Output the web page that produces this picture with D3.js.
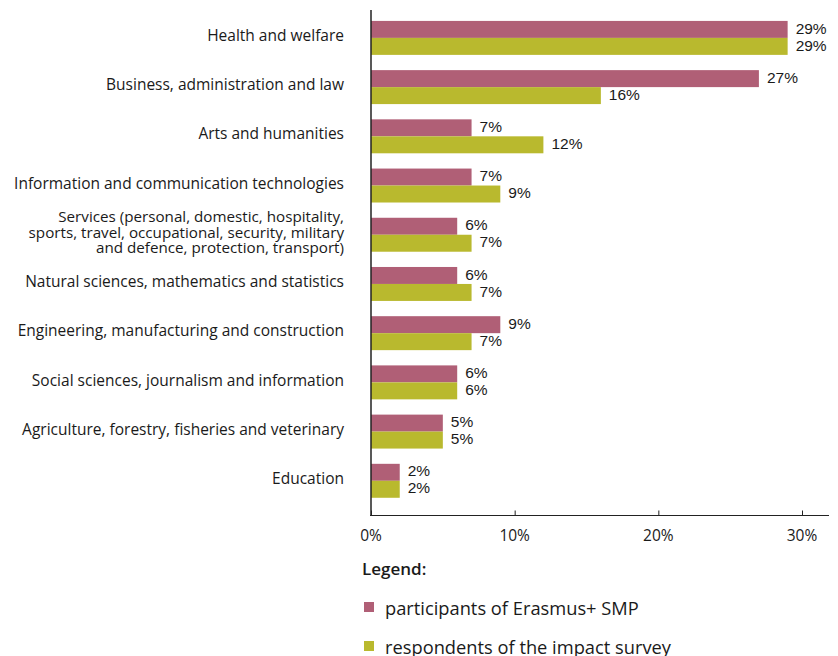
<!DOCTYPE html>
<html>
<head>
<meta charset="utf-8">
<script src="https://cdn.jsdelivr.net/npm/d3@7"></script>
<style>
  body { margin: 0; background: #fff; }
  svg text { fill: #1a1a1a; }
</style>
</head>
<body>
<div id="chart"></div>
<script>
// categories, top to bottom (each entry is the label lines)
const categories = [
    ["Health and welfare"],
    ["Business, administration and law"],
    ["Arts and humanities"],
    ["Information and communication technologies"],
    ["Services (personal, domestic, hospitality,", "sports, travel, occupational, security, military", "and defence, protection, transport)"],
    ["Natural sciences, mathematics and statistics"],
    ["Engineering, manufacturing and construction"],
    ["Social sciences, journalism and information"],
    ["Agriculture, forestry, fisheries and veterinary"],
    ["Education"]
];
const participants = [29, 27, 7, 7, 6, 6, 9, 6, 5, 2];
const respondents = [29, 16, 12, 9, 7, 7, 7, 6, 5, 2];
const seriesNames = ["participants of Erasmus+ SMP", "respondents of the impact survey"];
const seriesColors = ["#b05f76", "#b9b92e"];
const xTicks = [0, 10, 20, 30];

const width = 838, height = 656;
const labelFont = "'Open Sans', Lato, sans-serif";
const valueFont = "'Liberation Sans', Arial, sans-serif";

const svg = d3.select("#chart").append("svg")
    .attr("width", width)
    .attr("height", height);

const x = d3.scaleLinear().domain([0, 30]).range([371, 802]);
const keys = categories.map((c, i) => i);
const y = d3.scaleBand().domain(keys).range([3.7, 515]).paddingInner(0.31).paddingOuter(0.35);
const ySub = d3.scaleBand().domain([0, 1]).range([0, y.bandwidth()]);

// rows of data
const rows = keys.map(i => ({ i: i, vals: [participants[i], respondents[i]] }));

const groups = svg.selectAll("g.cat")
    .data(rows)
    .enter().append("g")
    .attr("class", "cat")
    .attr("transform", d => `translate(0,${y(d.i)})`);

groups.selectAll("rect")
    .data(d => d.vals.map((v, s) => ({ v: v, s: s })))
    .enter().append("rect")
    .attr("x", x(0))
    .attr("y", d => ySub(d.s))
    .attr("width", d => x(d.v) - x(0))
    .attr("height", ySub.bandwidth())
    .attr("fill", d => seriesColors[d.s]);

groups.selectAll("text.val")
    .data(d => d.vals.map((v, s) => ({ v: v, s: s })))
    .enter().append("text")
    .attr("class", "val")
    .attr("x", d => x(d.v) + 8)
    .attr("y", d => ySub(d.s) + ySub.bandwidth() / 2 - 1)
    .attr("dy", "0.33em")
    .attr("font-family", valueFont)
    .attr("font-size", 15.5)
    .text(d => d.v + "%");

// category labels
groups.append("text")
    .attr("text-anchor", "end")
    .attr("font-family", labelFont)
    .attr("font-size", d => categories[d.i].length > 1 ? 15.2 : 15.5)
    .each(function(d) {
        const lines = categories[d.i];
        const lh = 15.5;
        const start = y.bandwidth() / 2 - 1.5 - (lines.length - 1) * lh / 2;
        d3.select(this).selectAll("tspan")
            .data(lines)
            .enter().append("tspan")
            .attr("x", 344)
            .attr("y", (l, j) => start + j * lh)
            .attr("dy", "0.3em")
            .text(l => l);
    });

// axes
svg.append("line")
    .attr("x1", 371).attr("x2", 371)
    .attr("y1", 10).attr("y2", 515.5)
    .attr("stroke", "#222").attr("stroke-width", 1.5);

const xAxis = svg.append("g")
    .attr("transform", "translate(0,515.5)")
    .call(d3.axisTop(x).tickValues(xTicks).tickSize(5).tickFormat(""));
xAxis.select(".domain").remove();
xAxis.selectAll("line").attr("stroke", "#222");
svg.append("line")
    .attr("x1", 370).attr("x2", 829)
    .attr("y1", 515.5).attr("y2", 515.5)
    .attr("stroke", "#222").attr("stroke-width", 1.2);

svg.selectAll("text.tick")
    .data(xTicks)
    .enter().append("text")
    .attr("class", "tick")
    .attr("x", d => x(d))
    .attr("y", 541)
    .attr("text-anchor", "middle")
    .attr("font-family", labelFont)
    .attr("font-size", 15.5)
    .text(d => d + "%");

// legend
svg.append("text")
    .attr("x", 362).attr("y", 575)
    .attr("font-family", labelFont)
    .attr("font-size", 17)
    .attr("font-weight", 600)
    .text("Legend:");

const legend = svg.selectAll("g.legend")
    .data(seriesNames)
    .enter().append("g")
    .attr("class", "legend")
    .attr("transform", (d, i) => `translate(364,${602 + i * 39})`);

legend.append("rect")
    .attr("width", 10).attr("height", 10)
    .attr("fill", (d, i) => seriesColors[i]);

legend.append("text")
    .attr("x", 21).attr("y", 12.5)
    .attr("font-family", labelFont)
    .attr("font-size", 18.3)
    .text(d => d);
</script>
</body>
</html>
